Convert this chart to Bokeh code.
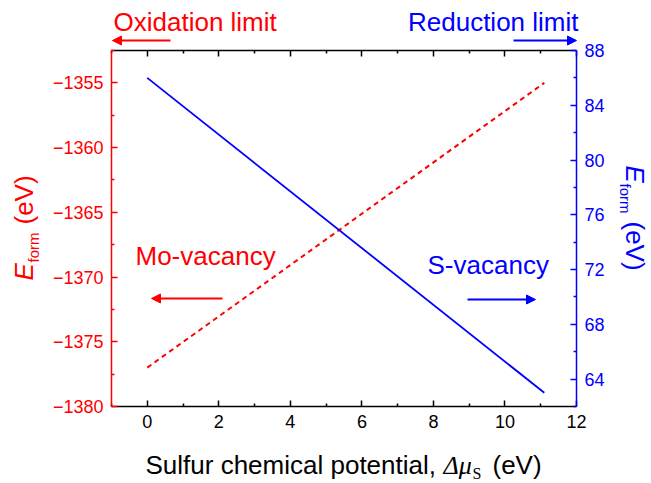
import math
from bokeh.plotting import figure
from bokeh.models import Range1d, LinearAxis, FixedTicker, Label, Arrow, NormalHead, GridBox, Column
from bokeh.embed import file_html
from bokeh.resources import INLINE

# ---------------- data ----------------
mu_s = [0.0, 11.1]                      # Sulfur chemical potential (eV)
e_mo_vacancy = [-1377.0, -1355.0]       # Mo-vacancy formation energy (eV), left axis
e_s_vacancy = [86.0, 63.0]              # S-vacancy formation energy (eV), right axis

x_ticks = [0, 2, 4, 6, 8, 10, 12]
x_minor = [-1, 1, 3, 5, 7, 9, 11]
left_ticks = [-1380, -1375, -1370, -1365, -1360, -1355]
left_minor = [-1377.5, -1372.5, -1367.5, -1362.5, -1357.5, -1352.5]
right_ticks = [64, 68, 72, 76, 80, 84, 88]
right_minor = [62, 66, 70, 74, 78, 82, 86]

RED = "#ff0000"
BLUE = "#0000ff"
FONT = "Liberation Sans"
SERIF = "Liberation Serif"

W, H = 651, 483
L, R, T, B = 111, 75, 50, 77
X0, X1 = -1, 12
Y0, Y1 = -1380, -1352.5
YR0, YR1 = 62, 88


def dx(px):
    return X0 + (px - L) * (X1 - X0) / (W - L - R)


def dy(py):
    return Y0 + (H - B - py) * (Y1 - Y0) / (H - T - B)


p = figure(width=W, height=H, x_range=Range1d(X0, X1), y_range=Range1d(Y0, Y1),
           output_backend="svg", toolbar_location=None,
           min_border_left=L, min_border_right=R, min_border_top=T, min_border_bottom=B)
p.extra_y_ranges = {"right": Range1d(YR0, YR1)}
p.outline_line_color = None
p.xgrid.visible = False
p.ygrid.visible = False
p.background_fill_color = "white"
p.border_fill_color = "white"

p.line(mu_s, e_mo_vacancy, line_color=RED, line_width=2, line_dash="5 4")
p.line(mu_s, e_s_vacancy, y_range_name="right", line_color=BLUE, line_width=1.8)


def style_axis(ax, color, ticks, minor):
    ax.ticker = FixedTicker(ticks=ticks, minor_ticks=minor)
    ax.axis_line_color = color
    ax.axis_line_width = 1.5
    ax.major_tick_line_color = color
    ax.minor_tick_line_color = color
    ax.major_tick_line_width = 1.5
    ax.minor_tick_line_width = 1.5
    ax.major_tick_in = 6
    ax.major_tick_out = 0
    ax.minor_tick_in = 3
    ax.minor_tick_out = 0
    ax.major_label_text_color = color
    ax.major_label_text_font = FONT
    ax.major_label_text_font_size = "18px"
    ax.major_label_standoff = 8


xb = p.xaxis[0]
style_axis(xb, "black", x_ticks, x_minor)
yl = p.yaxis[0]
style_axis(yl, RED, left_ticks, left_minor)

xt = LinearAxis()
style_axis(xt, "black", x_ticks, x_minor)
xt.major_label_overrides = {t: "" for t in x_ticks}
p.add_layout(xt, "above")

yr = LinearAxis(y_range_name="right")
style_axis(yr, BLUE, right_ticks, right_minor)
p.add_layout(yr, "right")

# transparent overlay (pixel coordinates) for the texts that lie outside the frame
ov = figure(width=W, height=H, x_range=Range1d(0, W), y_range=Range1d(H, 0),
            output_backend="svg", toolbar_location=None, min_border=0,
            x_axis_location=None, y_axis_location=None)
ov.xgrid.visible = False
ov.ygrid.visible = False
ov.outline_line_color = None
ov.background_fill_color = None
ov.border_fill_color = None


def add_text(fig, px, py, text, color, size, style="normal", font=FONT, angle=0.0, align="left"):
    # (px, py) is the baseline anchor in canvas pixels; convert to the middle of the text box
    shift = 0.3465 * size
    cx = px - math.sin(angle) * shift
    cy = py - math.cos(angle) * shift
    if fig is p:
        cx, cy = dx(cx), dy(cy)
    fig.add_layout(Label(x=cx, y=cy, text=text, text_color=color,
                         text_font=font, text_font_size=f"{size}px", text_font_style=style,
                         text_align=align, text_baseline="middle", angle=angle))


def add_arrow(fig, x0, y0, x1, y1, color):
    if fig is p:
        x0, y0, x1, y1 = dx(x0), dy(y0), dx(x1), dy(y1)
    fig.add_layout(Arrow(end=NormalHead(size=9, fill_color=color, line_color=color, line_width=1),
                         x_start=x0, y_start=y0, x_end=x1, y_end=y1,
                         line_color=color, line_width=2))


# top annotations
add_text(ov, 113, 31, "Oxidation limit", RED, 26)
add_text(ov, 578, 31, "Reduction limit", BLUE, 26, align="right")
add_arrow(ov, 170, 40, 112, 40, RED)
add_arrow(ov, 513, 40, 576, 40, BLUE)

# in-plot annotations
add_text(p, 135, 265, "Mo-vacancy", RED, 26)
add_arrow(p, 222, 298, 151, 298, RED)
add_text(p, 427, 274, "S-vacancy", BLUE, 26)
add_arrow(p, 467, 299, 535, 299, BLUE)

# left axis title (rotated, reading upward)
add_text(ov, 33, 280, "E", RED, 26, style="italic", angle=math.pi / 2)
add_text(ov, 38, 262, "form", RED, 15, angle=math.pi / 2)
add_text(ov, 33, 224, "(eV)", RED, 26, angle=math.pi / 2)

# right axis title (rotated, reading downward)
add_text(ov, 625, 165, "E", BLUE, 26, style="italic", angle=-math.pi / 2)
add_text(ov, 620, 183, "form", BLUE, 15, angle=-math.pi / 2)
add_text(ov, 625, 221, "(eV)", BLUE, 26, angle=-math.pi / 2)

# bottom axis title
add_text(ov, 145, 474, "Sulfur chemical potential,", "black", 26)
add_text(ov, 443, 474, "Δμ", "black", 26, style="italic", font=SERIF)
add_text(ov, 472, 479, "S", "black", 16, font=SERIF)
add_text(ov, 492, 474, "(eV)", "black", 26)

layout = GridBox(children=[(Column(children=[p]), 0, 0), (ov, 0, 0)], spacing=0)

open("out.html", "w").write(file_html(layout, INLINE))
